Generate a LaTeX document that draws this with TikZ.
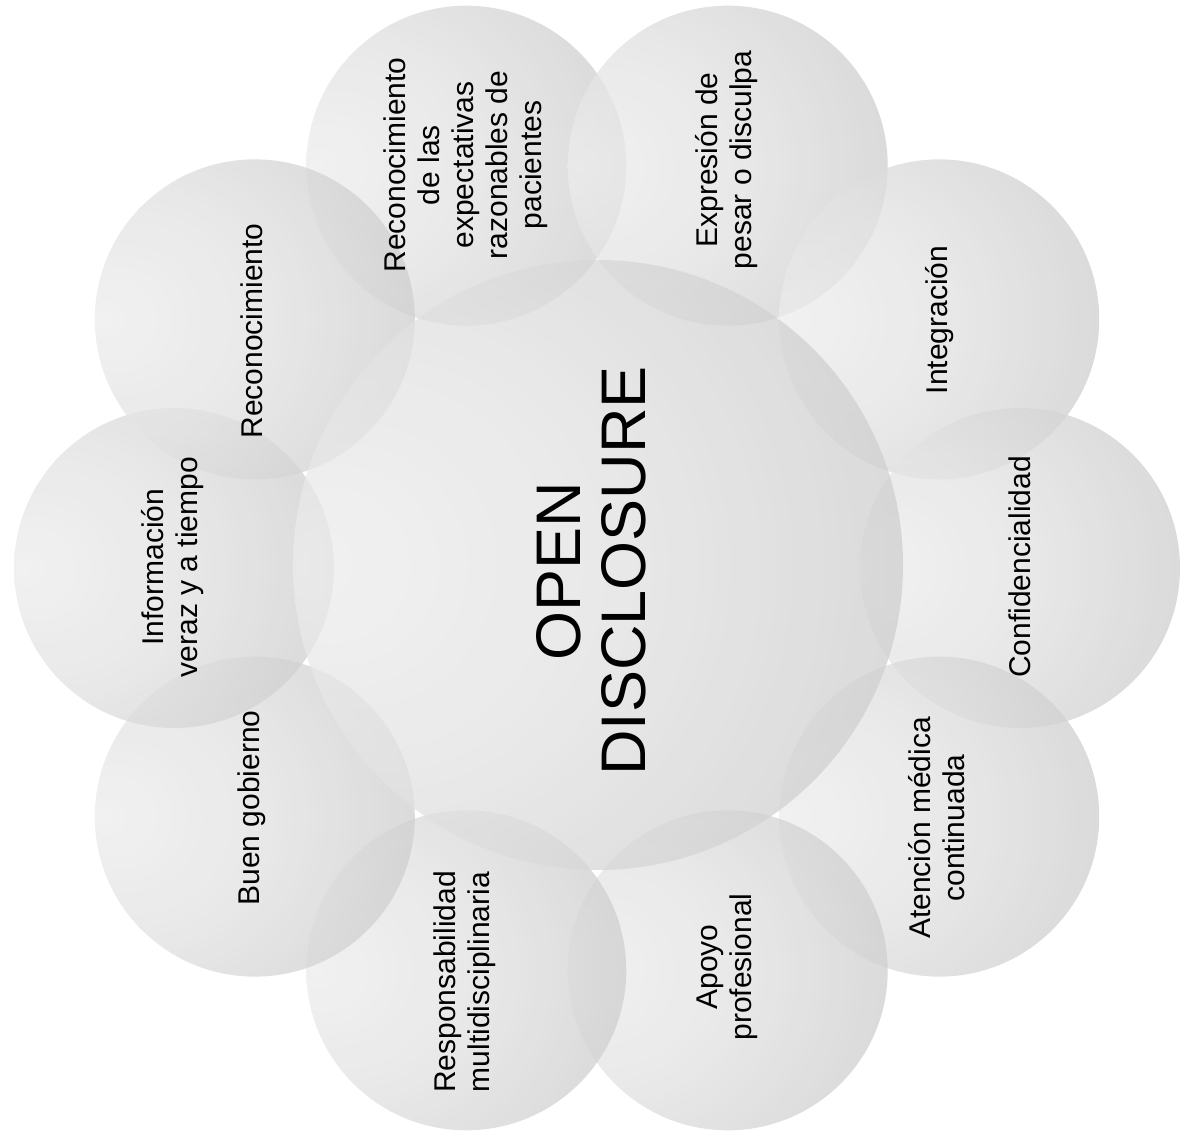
\documentclass[tikz,border=0pt]{standalone}
\usepackage{fontspec}
\setmainfont{Liberation Sans}
\pgfdeclareradialshading{ballg}{\pgfpoint{-24bp}{0bp}}{color(0bp)=(gray!14); color(18bp)=(gray!22); color(40bp)=(gray!40); color(56bp)=(gray!68); color(72bp)=(gray!68)}
\begin{document}
\begin{tikzpicture}[x=0.5pt,y=0.5pt,
  bubble/.style={circle, inner sep=0pt, minimum size=160pt, shade, shading=ballg, fill opacity=0.76, draw=none},
  hub/.style={bubble, minimum size=305pt},
  lab/.style={rotate=90, align=center, inner sep=0pt, font=\fontsize{15}{17}\selectfont, text=black},
  titlelab/.style={rotate=90, align=center, inner sep=0pt, font=\fontsize{31.5}{32.5}\selectfont, text=black}]
\fill[white] (0,0) rectangle (1189,-1133);
\useasboundingbox (0,0) rectangle (1189,-1133);
\coordinate (O) at (597,-568);
\foreach \i/\a in {1/108,2/72,3/36,4/0,5/-36,6/-72,7/-108,8/-144,9/180,10/144}
  \path (O) ++(\a:423) node[bubble] (c\i) {};
\node[hub] (hub) at (598,-565) {};
\node[titlelab] (title) at (591,-571) {OPEN\\DISCLOSURE};
\node[lab] (t1) at (466,-165) {Reconocimiento\\de las\\expectativas\\razonables de\\pacientes};
\node[lab] (t2) at (727,-160) {Expresión de\\pesar o disculpa};
\node[lab] (t3) at (940,-320) {Integración};
\node[lab] (t4) at (1020,-567) {Confidencialidad};
\node[lab] (t5) at (937,-828) {Atención médica\\continuada};
\node[lab] (t6) at (727,-967) {Apoyo\\profesional};
\node[lab] (t7) at (465,-982) {Responsabilidad\\multidisciplinaria};
\node[lab] (t8) at (252,-808) {Buen gobierno};
\node[lab] (t9) at (173,-567) {Información\\veraz y a tiempo};
\node[lab] (t10) at (252,-331) {Reconocimiento};
\end{tikzpicture}
\end{document}
